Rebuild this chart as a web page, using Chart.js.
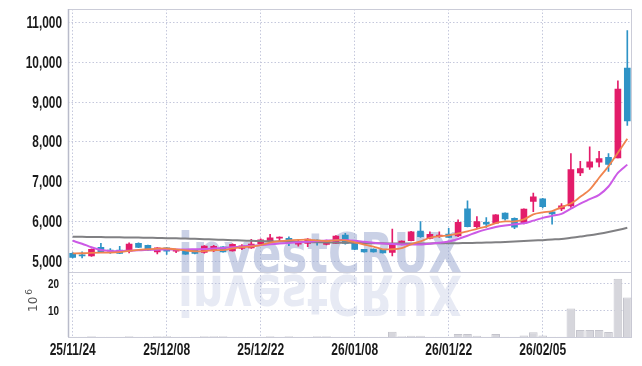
<!DOCTYPE html>
<html>
<head>
<meta charset="utf-8">
<script src="https://cdn.jsdelivr.net/npm/chart.js@4.4.1/dist/chart.umd.min.js"></script>
<style>
  html, body { margin: 0; padding: 0; background: #fff; }
  #wrap { width: 642px; height: 366px; }
</style>
</head>
<body>
<div id="wrap"><canvas id="chart"></canvas></div>
<script>
// trading days shown on the chart
const dates = ('25/11/24 25/11/25 25/11/26 25/11/27 25/11/28 25/12/01 25/12/02 25/12/03 25/12/04 25/12/05 ' +
  '25/12/08 25/12/09 25/12/10 25/12/11 25/12/12 25/12/15 25/12/16 25/12/17 25/12/18 25/12/19 ' +
  '25/12/22 25/12/23 25/12/24 25/12/26 25/12/29 25/12/30 26/01/02 26/01/05 26/01/06 26/01/07 ' +
  '26/01/08 26/01/09 26/01/12 26/01/13 26/01/14 26/01/15 26/01/16 26/01/19 26/01/20 26/01/21 ' +
  '26/01/22 26/01/23 26/01/26 26/01/27 26/01/28 26/01/29 26/01/30 26/02/02 26/02/03 26/02/04 ' +
  '26/02/05 26/02/06 26/02/09 26/02/10 26/02/11 26/02/12 26/02/13 26/02/19 26/02/20 26/02/23').split(' ');

const opens  = [5195,5160,5134,5347,5280,5278,5253,5448,5397,5235, 5337,5250,5278,5278,5220,5270,5363,5260,5320,5337,
                5438,5506,5580,5575,5430,5448,5532,5422,5448,5658, 5448,5296,5304,5296,5220,5422,5514,5760,5575,5630,
                5684,5633,6316,5868,5980,5954,6208,6080,5954,6501, 6570,6240,6316,6392,7220,7363,7489,7615,7600,9861];
const highs  = [5215,5235,5310,5448,5320,5372,5463,5460,5405,5345, 5345,5290,5285,5290,5390,5400,5370,5440,5420,5549,
                5560,5676,5610,5615,5530,5570,5540,5530,5645,5700, 5460,5300,5310,5300,5810,5515,5750,5995,5740,5740,
                5828,6040,6519,6120,6100,6175,6215,6090,6320,6714, 6580,6250,6450,7709,7513,7878,7767,7709,9539,10805];
const lows   = [5085,5085,5120,5230,5195,5190,5210,5340,5270,5185, 5170,5215,5170,5185,5205,5240,5225,5250,5290,5320,
                5430,5500,5489,5388,5380,5363,5405,5410,5440,5430, 5290,5225,5225,5200,5134,5410,5510,5600,5560,5600,
                5590,5615,5860,5840,5850,5950,6030,5820,5940,6248, 6340,5930,6270,6350,7150,7310,7372,7260,7600,8418];
const closes = [5094,5140,5296,5235,5262,5195,5430,5347,5278,5337, 5253,5270,5177,5195,5380,5372,5235,5423,5388,5430,
                5540,5590,5600,5473,5489,5557,5489,5506,5633,5448, 5296,5235,5235,5210,5448,5506,5742,5615,5676,5645,
                5600,5980,5868,5995,5930,6165,6063,5853,6309,6620, 6375,6190,6392,7304,7329,7498,7582,7438,9329,8527];

// moving averages as drawn (5, 20, long)
const ma5  = [5195,5200,5210,5215,5215,5229,5260,5285,5300,5315, 5320,5300,5270,5250,5255,5275,5280,5320,5355,5370,
              5405,5470,5505,5525,5535,5540,5522,5505,5530,5525, 5475,5420,5365,5300,5300,5330,5425,5500,5590,5630,
              5650,5700,5750,5815,5870,5960,6000,6000,6050,6180, 6230,6260,6360,6450,6620,6800,7100,7390,7730,8080];
const ma20 = [5514,5440,5350,5280,5255,5255,5265,5275,5285,5290, 5295,5295,5295,5300,5305,5320,5335,5350,5370,5390,
              5405,5425,5445,5460,5475,5489,5505,5520,5530,5532, 5515,5490,5465,5445,5430,5420,5420,5422,5440,5465,
              5495,5560,5640,5730,5800,5860,5900,5930,5954,6020, 6090,6140,6190,6320,6450,6560,6670,6880,7220,7430];
const maLong = [5615,5612,5610,5607,5604,5600,5597,5594,5590,5586, 5580,5575,5570,5563,5555,5545,5537,5529,5520,5512,
                5505,5500,5495,5490,5485,5480,5476,5472,5468,5464, 5460,5456,5452,5449,5446,5445,5446,5447,5448,5449,
                5450,5454,5458,5463,5469,5475,5485,5495,5505,5518, 5530,5545,5560,5590,5620,5650,5690,5735,5785,5840];

// volume, x10^6
const volume = [0.1,0.1,0.3,0.1,0.1,0.1,0.3,0.1,0.1,0.3, 0.3,0.1,0.1,0.1,0.3,0.3,0.3,0.1,0.1,0.1,
                0.1,0.3,0.1,0.3,0.1,0.1,0.3,0.3,0.1,0.1, 0.1,0.1,0.1,0.1,2.0,0.3,0.5,0.5,0.1,0.1,
                0.1,1.1,1.1,0.5,0.1,1.1,0.1,0.1,0.6,1.8, 0.6,0.1,0.1,10.6,2.6,2.6,2.6,1.9,21.7,14.7];

const priceTicks = [5000, 6000, 7000, 8000, 9000, 10000, 11000];
const volTicks = [10, 20];

const UP = '#e31c6a', DOWN = '#2e93c6';
const GRID = '#c5c8dc';
const LABEL = '#1a1a1a';

const candleColors = opens.map((o, i) => closes[i] >= o ? UP : DOWN);

// condensed bold label, squeezed horizontally
function squeezed(ctx, text, x, y, align, size, sx) {
  ctx.save();
  ctx.translate(x, y);
  ctx.scale(sx, 1);
  ctx.font = "bold " + size + "px 'Liberation Sans', Arial, sans-serif";
  ctx.textAlign = align;
  ctx.fillText(text, 0, 0);
  ctx.restore();
}

const decor = {
  id: 'decor',
  beforeDatasetsDraw(chart) {
    const ctx = chart.ctx, a = chart.chartArea;
    const sep = chart.scales.y.bottom;
    ctx.save();
    // watermark + reflection
    ctx.font = "bold 56px 'DejaVu Sans', sans-serif";
    ctx.textBaseline = 'alphabetic';
    ctx.fillStyle = 'rgba(150,164,205,0.5)';
    ctx.fillText('investCRUX', 178, sep, 284);
    ctx.save();
    ctx.beginPath();
    ctx.rect(a.left, sep, a.right - a.left, a.bottom - sep);
    ctx.clip();
    ctx.translate(0, sep * 2 + 4);
    ctx.scale(1, -1);
    ctx.fillStyle = 'rgba(170,180,215,0.28)';
    ctx.fillText('investCRUX', 178, sep, 284);
    ctx.restore();
    // frame
    ctx.strokeStyle = '#cbccd8';
    ctx.lineWidth = 1;
    ctx.strokeRect(a.left + 0.5, a.top + 0.5, a.right - a.left - 1, a.bottom - a.top);
    ctx.beginPath();
    ctx.moveTo(a.left, Math.round(sep) + 0.5);
    ctx.lineTo(a.right, Math.round(sep) + 0.5);
    ctx.stroke();
    ctx.strokeStyle = '#b9bbca';
    ctx.lineWidth = 1.5;
    ctx.beginPath();
    ctx.moveTo(a.left + 0.5, a.top);
    ctx.lineTo(a.left + 0.5, a.bottom);
    ctx.stroke();
    ctx.restore();
  },
  afterDraw(chart) {
    const ctx = chart.ctx, s = chart.scales;
    ctx.save();
    ctx.fillStyle = LABEL;
    ctx.textBaseline = 'middle';
    priceTicks.forEach(v => squeezed(ctx, v.toLocaleString('en-US'), 62, s.y.getPixelForValue(v) + 1, 'right', 16, 0.74));
    volTicks.forEach(v => squeezed(ctx, String(v), 59, s.yv.getPixelForValue(v) + 1, 'right', 13, 0.76));
    ctx.textBaseline = 'alphabetic';
    dates.forEach((d, i) => { if (i % 10 === 0) squeezed(ctx, d, s.x.getPixelForValue(i), 354.5, 'center', 16, 0.75); });
    // 10^6 unit label
    ctx.translate(37, 312);
    ctx.rotate(-Math.PI / 2);
    ctx.fillStyle = '#555';
    ctx.font = "12px 'DejaVu Sans', sans-serif";
    ctx.fillText('10', 0, 0);
    const w = ctx.measureText('10').width;
    ctx.font = "9px 'DejaVu Sans', sans-serif";
    ctx.fillText('6', w + 2, -5);
    ctx.restore();
  }
};

new Chart(document.getElementById('chart'), {
  data: {
    labels: dates,
    datasets: [
      { type: 'line', data: ma5, borderColor: '#f0844e', borderWidth: 1.8, pointRadius: 0, tension: 0.3, yAxisID: 'y', order: 0 },
      { type: 'line', data: ma20, borderColor: '#cc5ae6', borderWidth: 2, pointRadius: 0, tension: 0.3, yAxisID: 'y', order: 0 },
      { type: 'line', data: maLong, borderColor: '#808083', borderWidth: 2, pointRadius: 0, tension: 0.3, yAxisID: 'y', order: 0 },
      { type: 'bar', data: opens.map((o, i) => [o, Math.abs(closes[i] - o) < 25 ? o + (closes[i] >= o ? 25 : -25) : closes[i]]),
        backgroundColor: candleColors, barThickness: 6, grouped: false, yAxisID: 'y', order: 1 },
      { type: 'bar', data: lows.map((l, i) => [l, highs[i]]),
        backgroundColor: candleColors, barThickness: 1, grouped: false, yAxisID: 'y', order: 2 },
      { type: 'bar', data: volume, backgroundColor: '#d6d6dc', borderColor: '#c4c4cc', borderWidth: 1,
        barPercentage: 1, categoryPercentage: 0.92, grouped: false, yAxisID: 'yv', order: 3 }
    ]
  },
  options: {
    responsive: true,
    maintainAspectRatio: false,
    animation: false,
    layout: { padding: { top: 9, right: 10, left: 0, bottom: 0 } },
    plugins: { legend: { display: false }, tooltip: { enabled: false } },
    scales: {
      x: {
        offset: true,
        grid: { offset: false, drawTicks: false, color: c => c.index % 10 === 0 ? GRID : 'transparent' },
        border: { display: false, dash: [1.5, 2] },
        ticks: { display: false, autoSkip: false },
        afterFit: s => { s.height = 29; }
      },
      yv: {
        type: 'linear', position: 'left', stack: 'panes', stackWeight: 64.7,
        min: 0, max: 24.1,
        afterBuildTicks: s => { s.ticks = volTicks.map(v => ({ value: v })); },
        grid: { drawTicks: false, color: GRID },
        border: { display: false, dash: [1.5, 2] },
        ticks: { display: false },
        afterFit: s => { s.width = 68; }
      },
      y: {
        type: 'linear', position: 'left', stack: 'panes', stackWeight: 263,
        min: 4722, max: 11346,
        afterBuildTicks: s => { s.ticks = priceTicks.map(v => ({ value: v })); },
        grid: { drawTicks: false, color: GRID },
        border: { display: false, dash: [1.5, 2] },
        ticks: { display: false },
        afterFit: s => { s.width = 68; }
      }
    }
  },
  plugins: [decor]
});
</script>
</body>
</html>
